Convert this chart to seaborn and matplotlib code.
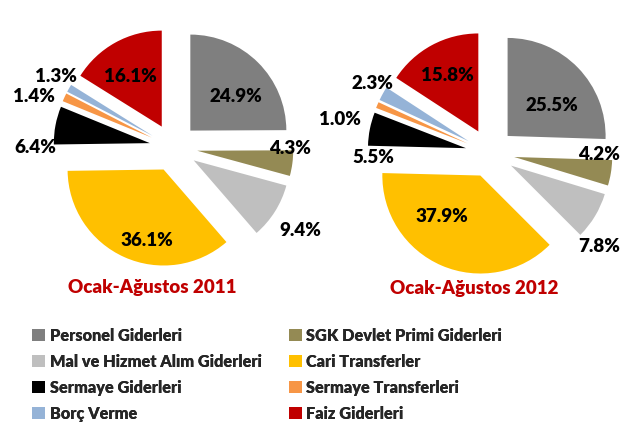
import numpy as np
import matplotlib
matplotlib.use("Agg")
import matplotlib.pyplot as plt
from matplotlib.patches import Patch
import seaborn as sns

# data
categories = ["Personel Giderleri", "SGK Devlet Primi Giderleri", "Mal ve Hizmet Alım Giderleri",
              "Cari Transferler", "Sermaye Giderleri", "Sermaye Transferleri", "Borç Verme",
              "Faiz Giderleri"]
share_2011 = [24.9, 4.3, 9.4, 36.1, 6.4, 1.4, 1.3, 16.1]
share_2012 = [25.5, 4.2, 7.8, 37.9, 5.5, 1.0, 2.3, 15.8]
titles = ["Ocak-Ağustos 2011", "Ocak-Ağustos 2012"]

colors = ["#7F7F7F", "#948A54", "#BFBFBF", "#FFC000", "#000000", "#F79646", "#95B3D7", "#C00000"]

sns.set_theme(style="white")
plt.rcParams["font.family"] = ["Lato", "DejaVu Sans"]
WEIGHT = "heavy"

W, H = 629, 423
fig = plt.figure(figsize=(W / 100, H / 100), dpi=100)

# label placement per slice: (distance in radii, angle tweak in degrees)
label_dist = [[0.59, 0.97, 1.33, 0.76, 1.19, 1.30, 1.18, 0.62],
              [0.55, 0.87, 1.22, 0.57, 0.95, 1.32, 1.14, 0.65]]
label_turn = [[-8, 9, -1, 11, 12.7, 5.7, -2, 3],
              [-10, 10.7, -11.4, -19.6, 16.8, 12.6, -2, 0.6]]

# pie geometry in pixels: center x, center y (from top), radius
pies = [(173.4, 147.6, 96), (490, 153, 98)]
boxes = [(0, 315), (315, 629)]
title_x = [152, 474]

for k, values in enumerate([share_2011, share_2012]):
    cx, cy, r = pies[k]
    x0, x1 = boxes[k]
    top, bottom = 0, 280
    ax = fig.add_axes([x0 / W, 1 - bottom / H, (x1 - x0) / W, (bottom - top) / H])
    wedges, _ = ax.pie(values, colors=colors, startangle=90, counterclock=False,
                       explode=[0.25] * len(values), radius=1, frame=True,
                       wedgeprops=dict(linewidth=0))
    ax.axis("off")
    ax.set_xlim((x0 - cx) / r, (x1 - cx) / r)
    ax.set_ylim(-(bottom - cy) / r, (cy - top) / r)
    for i, w in enumerate(wedges):
        mid = np.deg2rad((w.theta1 + w.theta2) / 2 + label_turn[k][i])
        d = label_dist[k][i]
        px = w.center[0] + d * np.cos(mid)
        py = w.center[1] + d * np.sin(mid)
        ax.text(px, py, f"{values[i]:.1f}%", ha="center", va="center",
                fontsize=13.5, fontweight=WEIGHT, color="black")
    ax.text((title_x[k] - cx) / r, -(288 - cy) / r, titles[k], ha="center",
            va="center", fontsize=13.5, fontweight=WEIGHT, color="#C00000")

# legend: two columns, drawn as two legends
handles = [Patch(facecolor=c, edgecolor="none") for c in colors]
columns = [[0, 2, 4, 6], [1, 3, 5, 7]]
col_x = [26, 282]
for j, idx in enumerate(columns):
    leg = fig.legend([handles[i] for i in idx], [categories[i] for i in idx],
                     loc="upper left", bbox_to_anchor=(col_x[j] / W, 1 - 321 / H),
                     frameon=False, prop=dict(size=11.7, weight=WEIGHT),
                     handlelength=0.8, handleheight=0.8, handletextpad=0.25,
                     labelspacing=0.62, borderaxespad=0)
    fig.add_artist(leg)

fig.savefig("out.png", dpi=100)
